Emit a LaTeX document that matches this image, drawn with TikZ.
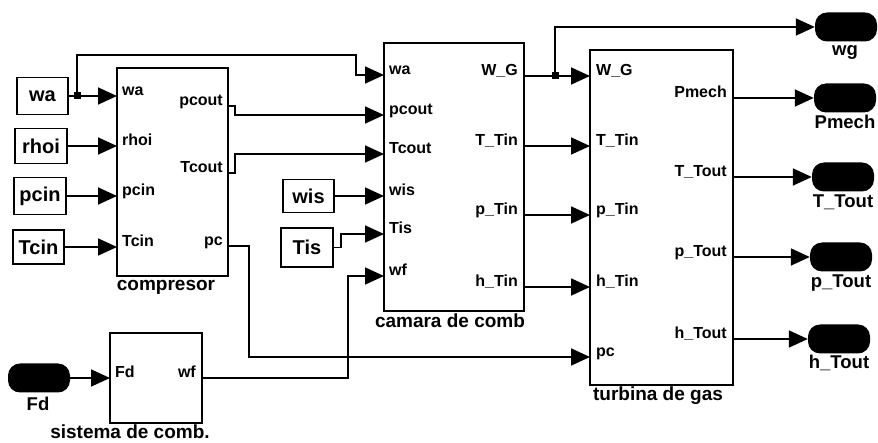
\documentclass[tikz,border=0pt]{standalone}
\usepackage{fontspec}
\setmainfont{Liberation Sans}
\usetikzlibrary{arrows.meta}
\begin{document}
\begin{tikzpicture}[x=1pt,y=-1pt,
 blk/.style={draw, line width=1.4pt, inner sep=0pt},
 kst/.style={draw, line width=1.4pt, inner sep=0pt, font=\fontsize{20}{20}\selectfont\bfseries},
 term/.style={fill=black, rounded corners=12pt, minimum width=62pt, minimum height=29pt, inner sep=0pt},
 pl/.style={font=\fontsize{16}{16}\selectfont\bfseries, inner sep=0pt},
 bl/.style={font=\fontsize{19}{19}\selectfont\bfseries, inner sep=0pt},
 tl/.style={font=\fontsize{18.5}{18.5}\selectfont\bfseries, inner sep=0pt},
 wire/.style={line width=1.8pt, -{Triangle[length=19pt,width=17pt]}},
 wline/.style={line width=1.8pt},
 jdot/.style={fill=black, minimum size=7pt, inner sep=0pt}]
\useasboundingbox (0,0) rectangle (878,443);

% ---- main blocks
\node[blk, minimum width=111pt, minimum height=208pt] (cmp) at (172.5,172) {};
\node[blk, minimum width=140pt, minimum height=268pt] (cam) at (454,177) {};
\node[blk, minimum width=143pt, minimum height=335pt] (tur) at (661.5,217.5) {};
\node[blk, minimum width=92pt, minimum height=90pt] (sis) at (156,378) {};

\node[bl] (lcmp) at (166,287) {compresor};
\node[bl] (lcam) at (450,321) {camara de comb};
\node[bl] (ltur) at (658,396) {turbina de gas};
\node[bl] (lsis) at (130,432) {sistema de comb.};

% ---- ports
\coordinate (cmp-wa) at (117,96);
\coordinate (cmp-rhoi) at (117,146);
\coordinate (cmp-pcin) at (117,196);
\coordinate (cmp-Tcin) at (117,247);
\coordinate (cmp-pcout) at (228,106);
\coordinate (cmp-Tcout) at (228,173);
\coordinate (cmp-pc) at (228,246);

\coordinate (cam-wa) at (384,75);
\coordinate (cam-pcout) at (384,115);
\coordinate (cam-Tcout) at (384,154);
\coordinate (cam-wis) at (384,196);
\coordinate (cam-Tis) at (384,234);
\coordinate (cam-wf) at (384,276);
\coordinate (cam-WG) at (524,76);
\coordinate (cam-TTin) at (524,146);
\coordinate (cam-pTin) at (524,215);
\coordinate (cam-hTin) at (524,287);

\coordinate (tur-WG) at (590,76);
\coordinate (tur-TTin) at (590,146);
\coordinate (tur-pTin) at (590,215);
\coordinate (tur-hTin) at (590,287);
\coordinate (tur-pc) at (590,357);
\coordinate (tur-Pmech) at (733,98);
\coordinate (tur-TTout) at (733,177);
\coordinate (tur-pTout) at (733,257);
\coordinate (tur-hTout) at (733,339);

\coordinate (sis-Fd) at (110,378);
\coordinate (sis-wf) at (202,378);

% ---- port labels
\node[pl, anchor=mid west] at (122,93) {wa};
\node[pl, anchor=mid west] at (122,143) {rhoi};
\node[pl, anchor=mid west] at (122,193) {pcin};
\node[pl, anchor=mid west] at (122,244) {Tcin};
\node[pl, anchor=mid east] at (223,103) {pcout};
\node[pl, anchor=mid east] at (223,170) {Tcout};
\node[pl, anchor=mid east] at (223,243) {pc};

\node[pl, anchor=mid west] at (389,72) {wa};
\node[pl, anchor=mid west] at (389,112) {pcout};
\node[pl, anchor=mid west] at (389,151) {Tcout};
\node[pl, anchor=mid west] at (389,193) {wis};
\node[pl, anchor=mid west] at (389,231) {Tis};
\node[pl, anchor=mid west] at (389,273) {wf};
\node[pl, anchor=mid east] at (518,73) {W\_G};
\node[pl, anchor=mid east] at (518,143) {T\_Tin};
\node[pl, anchor=mid east] at (518,212) {p\_Tin};
\node[pl, anchor=mid east] at (518,284) {h\_Tin};

\node[pl, anchor=mid west] at (596,73) {W\_G};
\node[pl, anchor=mid west] at (596,143) {T\_Tin};
\node[pl, anchor=mid west] at (596,212) {p\_Tin};
\node[pl, anchor=mid west] at (596,284) {h\_Tin};
\node[pl, anchor=mid west] at (596,354) {pc};
\node[pl, anchor=mid east] at (727,95) {Pmech};
\node[pl, anchor=mid east] at (727,174) {T\_Tout};
\node[pl, anchor=mid east] at (727,254) {p\_Tout};
\node[pl, anchor=mid east] at (727,336) {h\_Tout};

\node[pl, anchor=mid west] at (115,375) {Fd};
\node[pl, anchor=mid east] at (196,375) {wf};

% ---- constant blocks
\node[kst, minimum width=51pt, minimum height=37pt] (kwa) at (42.5,96) {wa};
\node[kst, minimum width=52pt, minimum height=35pt] (krhoi) at (41,146) {rhoi};
\node[kst, minimum width=52pt, minimum height=37pt] (kpcin) at (40,196) {pcin};
\node[kst, minimum width=51pt, minimum height=34pt] (kTcin) at (38.5,247) {Tcin};
\node[kst, minimum width=51pt, minimum height=33pt] (kwis) at (308.5,196) {wis};
\node[kst, minimum width=52pt, minimum height=39pt] (kTis) at (307,247.5) {Tis};

% ---- terminals
\node[term] (tFd) at (39,378) {};
\node[term] (twg) at (846,27) {};
\node[term] (tPmech) at (845,98) {};
\node[term] (tTTout) at (843,177) {};
\node[term] (tpTout) at (841,257) {};
\node[term] (thTout) at (839,339) {};
\node[tl] (lFd) at (38,404) {Fd};
\node[tl] (lwg) at (845,52) {wg};
\node[tl] (lPmech) at (845,122) {Pmech};
\node[tl] (lTTout) at (843,202) {T\_Tout};
\node[tl] (lpTout) at (841,283) {p\_Tout};
\node[tl] (lhTout) at (839,363) {h\_Tout};

% ---- junctions
\coordinate (jwa) at (77,96);
\coordinate (jwg) at (555,76);

% ---- wires
\draw[wline] (kwa.east) -- (jwa);
\draw[wire] (jwa) -- (cmp-wa);
\draw[wire] (jwa) |- (356,55) |- (cam-wa);
\draw[wire] (krhoi.east) -- (cmp-rhoi);
\draw[wire] (kpcin.east) -- (cmp-pcin);
\draw[wire] (kTcin.east) -- (cmp-Tcin);

\draw[wire] (cmp-pcout) -| (235,110) |- (cam-pcout);
\draw[wire] (cmp-Tcout) -| (235,160) |- (cam-Tcout);
\draw[wire] (cmp-pc) -| (249,300) |- (tur-pc);
\draw[wire] (kwis.east) -- (cam-wis);
\draw[wire] (kTis.east) -| (341,240) |- (cam-Tis);
\draw[wire] (sis-wf) -| (348,300) |- (cam-wf);
\draw[wire] (tFd.east) -- (sis-Fd);

\draw[wline] (cam-WG) -- (jwg);
\draw[wire] (jwg) -- (tur-WG);
\draw[wire] (jwg) |- (twg.west);
\draw[wire] (cam-TTin) -- (tur-TTin);
\draw[wire] (cam-pTin) -- (tur-pTin);
\draw[wire] (cam-hTin) -- (tur-hTin);

\draw[wire] (tur-Pmech) -- (tPmech.west);
\draw[wire] (tur-TTout) -- (tTTout.west);
\draw[wire] (tur-pTout) -- (tpTout.west);
\draw[wire] (tur-hTout) -- (thTout.west);

\node[jdot] (dwa) at (jwa) {};
\node[jdot] (dwg) at (jwg) {};
\end{tikzpicture}
\end{document}
